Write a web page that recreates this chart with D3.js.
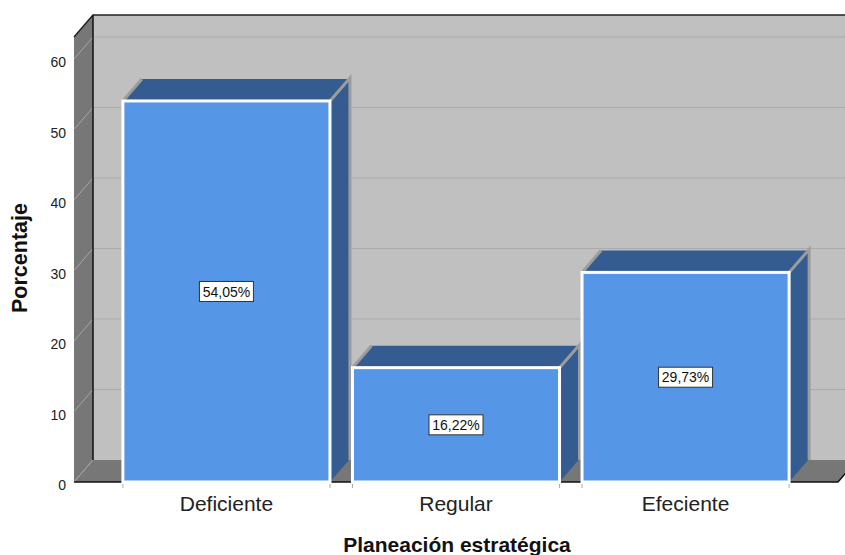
<!DOCTYPE html>
<html lang="es">
<head>
    <meta charset="UTF-8">
    <title>Planeación estratégica</title>
    <script src="https://cdn.jsdelivr.net/npm/d3@7"></script>
    <style>
        body { margin: 0; background: #fff; }
        svg { display: block; font-family: "Liberation Sans", Arial, sans-serif; }
    </style>
</head>
<body>
    <script>
        // datos
        const categories = ['Deficiente', 'Regular', 'Efeciente'];
        const values = [54.05, 16.22, 29.73];
        const labels = ['54,05%', '16,22%', '29,73%'];
        const yTicks = [0, 10, 20, 30, 40, 50, 60];

        const width = 845, height = 555;
        const dx = 19, dy = -22;       // profundidad 3D
        const left = 74, right = 838, bottom = 482;

        const svg = d3.select('body').append('svg')
            .attr('width', width)
            .attr('height', height);

        const y = d3.scaleLinear().domain([0, 60]).range([bottom, 59]);
        const yTop = y.invert(37);
        const x = d3.scaleBand().domain(categories).range([left, right])
            .paddingInner(0.098).paddingOuter(0.213);

        const pts = a => a.map(p => p.join(',')).join(' ');

        // pared del fondo
        svg.append('rect')
            .attr('x', left + dx).attr('y', y(yTop) + dy)
            .attr('width', width - left).attr('height', y(0) - y(yTop))
            .attr('fill', '#c0c0c0');

        svg.selectAll('.grid').data(yTicks.slice(1)).enter().append('line')
            .attr('class', 'grid')
            .attr('x1', left + dx).attr('x2', width + 20)
            .attr('y1', d => y(d) + dy).attr('y2', d => y(d) + dy)
            .attr('stroke', '#ababab').attr('stroke-width', 1);

        // pared izquierda
        svg.append('polygon')
            .attr('points', pts([[left, y(yTop)], [left + dx, y(yTop) + dy], [left + dx, y(0) + dy], [left, y(0)]]))
            .attr('fill', '#777');

        svg.selectAll('.diag').data(yTicks).enter().append('line')
            .attr('class', 'diag')
            .attr('x1', left).attr('x2', left + dx)
            .attr('y1', d => y(d)).attr('y2', d => y(d) + dy)
            .attr('stroke', '#a6a6a6').attr('stroke-width', 1);

        // piso
        svg.append('polygon')
            .attr('points', pts([[left, y(0)], [left + dx, y(0) + dy], [right + dx, y(0) + dy], [right, y(0)]]))
            .attr('fill', '#777');
        svg.append('line')
            .attr('x1', left).attr('y1', y(0)).attr('x2', left + dx).attr('y2', y(0) + dy)
            .attr('stroke', '#a6a6a6');

        // bordes negros
        svg.append('polyline')
            .attr('points', pts([[left, y(yTop)], [left + dx, y(yTop) + dy], [width + 20, y(yTop) + dy]]))
            .attr('fill', 'none').attr('stroke', '#222').attr('stroke-width', 1.5);
        svg.append('line')
            .attr('x1', left + dx).attr('x2', left + dx)
            .attr('y1', y(yTop) + dy).attr('y2', y(0) + dy)
            .attr('stroke', '#111').attr('stroke-width', 1.5);
        svg.append('polyline')
            .attr('points', pts([[left, y(0)], [right, y(0)], [right + dx, y(0) + dy]]))
            .attr('fill', 'none').attr('stroke', '#111').attr('stroke-width', 1.5);

        // barras
        const bars = svg.selectAll('.bar').data(values).enter().append('g').attr('class', 'bar');
        const x0 = (d, i) => x(categories[i]);
        const x1 = (d, i) => x(categories[i]) + x.bandwidth();

        bars.append('polygon')
            .attr('points', (d, i) => pts([[x1(d, i), y(d)], [x1(d, i) + dx, y(d) + dy], [x1(d, i) + dx, y(0) + dy], [x1(d, i), y(0)]]))
            .attr('fill', '#355c91');
        bars.append('polygon')
            .attr('points', (d, i) => pts([[x0(d, i), y(d)], [x0(d, i) + dx, y(d) + dy], [x1(d, i) + dx, y(d) + dy], [x1(d, i), y(d)]]))
            .attr('fill', '#355c91');
        bars.append('polyline')
            .attr('points', (d, i) => pts([[x0(d, i), y(d)], [x0(d, i) + dx, y(d) + dy]]))
            .attr('fill', 'none').attr('stroke', '#9c9c9c').attr('stroke-width', 3);
        bars.append('polyline')
            .attr('points', (d, i) => pts([[x1(d, i), y(d)], [x1(d, i) + dx + 1, y(d) + dy - 1], [x1(d, i) + dx + 1, y(0) + dy]]))
            .attr('fill', 'none').attr('stroke', '#9c9c9c').attr('stroke-width', 3);
        bars.append('rect')
            .attr('x', x0).attr('y', d => y(d))
            .attr('width', x.bandwidth()).attr('height', d => y(0) - y(d))
            .attr('fill', '#5596e6')
            .attr('stroke', '#fff').attr('stroke-width', 3);

        // marcas bajo el eje
        const edges = [];
        categories.forEach(c => { edges.push(x(c)); edges.push(x(c) + x.bandwidth()); });
        svg.selectAll('.xt').data(edges).enter().append('line')
            .attr('x1', d => d).attr('x2', d => d)
            .attr('y1', bottom + 2).attr('y2', bottom + 6)
            .attr('stroke', '#aaa');

        // etiquetas de valor
        const lab = bars.append('g')
            .attr('transform', (d, i) => `translate(${x(categories[i]) + x.bandwidth() / 2},${(y(d) + y(0)) / 2})`);
        lab.append('rect')
            .attr('x', -27).attr('y', -10).attr('width', 54).attr('height', 20)
            .attr('fill', '#fff').attr('stroke', '#333').attr('stroke-width', 1);
        lab.append('text')
            .attr('text-anchor', 'middle').attr('dy', '0.36em')
            .attr('font-size', '14px').attr('fill', '#111')
            .text((d, i) => labels[i]);

        // eje y
        svg.selectAll('.yt').data(yTicks).enter().append('text')
            .attr('x', 66).attr('y', d => y(d) + 3).attr('dy', '0.36em')
            .attr('text-anchor', 'end').attr('font-size', '14px').attr('fill', '#222')
            .text(d => d);

        // eje x
        svg.selectAll('.xl').data(categories).enter().append('text')
            .attr('x', d => x(d) + x.bandwidth() / 2).attr('y', 511)
            .attr('text-anchor', 'middle').attr('font-size', '21px').attr('fill', '#222')
            .text(d => d);

        svg.append('text')
            .attr('x', 457).attr('y', 552)
            .attr('text-anchor', 'middle').attr('font-size', '21px').attr('font-weight', 'bold')
            .attr('fill', '#111')
            .text('Planeación estratégica');

        svg.append('text')
            .attr('transform', 'translate(27,258) rotate(-90)')
            .attr('text-anchor', 'middle').attr('font-size', '21.5px').attr('font-weight', 'bold')
            .attr('fill', '#111')
            .text('Porcentaje');
    </script>
</body>
</html>
